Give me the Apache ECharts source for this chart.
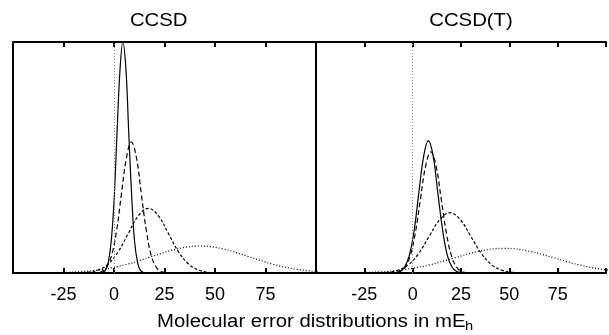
<!DOCTYPE html>
<html>
<head>
<meta charset="utf-8">
<script src="https://cdn.jsdelivr.net/npm/echarts@6/dist/echarts.min.js"></script>
<style>
html,body{margin:0;padding:0;background:#fff;}
#chart{width:609px;height:335px;}
</style>
</head>
<body>
<div id="chart"></div>
<script>
// Panel titles and axis title
const panelTitles = ['CCSD', 'CCSD(T)'];
const axisTitle = 'Molecular error distributions in mE';
const axisTitleSub = 'h';
// Tick labels shown on x axes
const xTickLabels = [-25, 0, 25, 50, 75];

// CCSD panel curves: [error (mEh), relative frequency]
const ccsdSolid = [[-7.2,0.03],[-5.8,0.22],[-4.3,1.11],[-2.9,4.39],[-1.4,13.5],[0.1,32.5],[1.5,60.7],[3.0,88.3],[4.4,100],[5.9,88.3],[7.3,60.7],[8.8,32.5],[10.2,13.5],[11.7,4.39],[13.1,1.11],[14.6,0.22],[16.0,0.03]];
const ccsdDashed = [[-11.0,0.02],[-8.6,0.13],[-6.1,0.63],[-3.7,2.49],[-1.2,7.67],[1.3,18.4],[3.7,34.4],[6.2,50.0],[8.6,56.7],[11.1,50.0],[13.5,34.4],[16.0,18.4],[18.4,7.67],[20.9,2.49],[23.3,0.63],[25.8,0.13],[28.2,0.02]];
const ccsdShortDash = [[-23,0.01],[-18,0.06],[-13,0.31],[-8,1.23],[-3,3.79],[2,9.09],[7,17.0],[12,24.7],[17,28.0],[22,24.7],[27,17.0],[32,9.09],[37,3.79],[42,1.23],[47,0.31],[52,0.06],[57,0.01]];
const ccsdDotted = [[-53.4,0.004],[-41.4,0.026],[-29.4,0.13],[-17.4,0.51],[-5.4,1.58],[6.6,3.80],[18.6,7.10],[30.6,10.3],[42.6,11.7],[54.6,10.3],[66.6,7.10],[78.6,3.80],[90.6,1.58],[102.6,0.51],[114.6,0.13]];

// CCSD(T) panel curves
const ccsdtSolid = [[-11.5,0.019],[-9.1,0.126],[-6.6,0.636],[-4.2,2.52],[-1.7,7.75],[0.8,18.6],[3.2,34.8],[5.7,50.6],[8.1,57.3],[10.6,50.6],[13.0,34.8],[15.5,18.6],[17.9,7.75],[20.4,2.52],[22.8,0.636],[25.3,0.126],[27.7,0.019]];
const ccsdtDashed = [[-12.2,0.018],[-9.5,0.116],[-6.8,0.583],[-4.1,2.31],[-1.4,7.10],[1.3,17.0],[4.0,31.8],[6.7,46.3],[9.4,52.5],[12.1,46.3],[14.8,31.8],[17.5,17.0],[20.2,7.10],[22.9,2.31],[25.6,0.583],[28.3,0.116],[31.0,0.018]];
const ccsdtShortDash = [[-23.9,0.009],[-18.5,0.057],[-13.1,0.29],[-7.7,1.15],[-2.3,3.53],[3.1,8.47],[8.5,15.8],[13.9,23.0],[19.3,26.1],[24.7,23.0],[30.1,15.8],[35.5,8.47],[40.9,3.53],[46.3,1.15],[51.7,0.29],[57.1,0.057],[62.5,0.009]];
const ccsdtDotted = [[-56.6,0.004],[-43.6,0.024],[-30.6,0.119],[-17.6,0.47],[-4.6,1.45],[8.4,3.47],[21.4,6.49],[34.4,9.44],[47.4,10.7],[60.4,9.44],[73.4,6.49],[86.4,3.47],[99.4,1.45],[112.4,0.47],[125.4,0.119]];

const FONT = '"Liberation Sans", Arial, Helvetica, sans-serif';
const chart = echarts.init(document.getElementById('chart'), null, {renderer: 'canvas'});

const grids = [
  {left: 13, top: 42, width: 303, height: 231},
  {left: 316, top: 42, width: 303, height: 231}
];

function bottomX(gi) {
  return {
    type: 'value', gridIndex: gi, position: 'bottom', min: -50, max: 100, interval: 25,
    axisLine: {show: true, onZero: false, lineStyle: {color: '#000', width: 2}},
    axisTick: {show: true, inside: true, length: 5, lineStyle: {color: '#000', width: 2}},
    axisLabel: {show: true, color: '#000', fontSize: 18, fontFamily: FONT, margin: 13,
      formatter: v => xTickLabels.indexOf(v) >= 0 ? String(v) : ''},
    splitLine: {show: false}
  };
}
function topX(gi) {
  return {
    type: 'value', gridIndex: gi, position: 'top', min: -50, max: 100, interval: 25,
    axisLine: {show: true, onZero: false, lineStyle: {color: '#000', width: 2}},
    axisTick: {show: true, inside: true, length: 5, lineStyle: {color: '#000', width: 2}},
    axisLabel: {show: false},
    splitLine: {show: false}
  };
}
function leftY(gi) {
  return {
    type: 'value', gridIndex: gi, min: 0, max: 100,
    axisLine: {show: true, onZero: false, lineStyle: {color: '#000', width: 2}},
    axisTick: {show: false}, axisLabel: {show: false}, splitLine: {show: false}
  };
}

function curve(data, xi, yi, dash) {
  return {
    type: 'line', data: data, xAxisIndex: xi, yAxisIndex: yi,
    showSymbol: false, symbol: 'none', smooth: 0.4, clip: true,
    lineStyle: {color: '#000', width: 1.2, type: dash},
    z: 3, silent: true, animation: false
  };
}
function zeroLine(xi, yi) {
  return {
    type: 'line', data: [], xAxisIndex: xi, yAxisIndex: yi, silent: true, z: 1,
    markLine: {silent: true, symbol: ['none', 'none'], label: {show: false},
      lineStyle: {color: '#888', width: 1, type: [1, 2]}, data: [{xAxis: 0}], animation: false}
  };
}

const option = {
  animation: false,
  backgroundColor: '#fff',
  grid: grids,
  xAxis: [bottomX(0), topX(0), bottomX(1), topX(1)],
  yAxis: [leftY(0), leftY(1)],
  series: [
    zeroLine(0, 0),
    curve(ccsdDotted, 0, 0, [1, 2]),
    curve(ccsdShortDash, 0, 0, [3, 2]),
    curve(ccsdDashed, 0, 0, [5, 3]),
    curve(ccsdSolid, 0, 0, 'solid'),
    zeroLine(2, 1),
    curve(ccsdtDotted, 2, 1, [1, 2]),
    curve(ccsdtShortDash, 2, 1, [3, 2]),
    curve(ccsdtDashed, 2, 1, [5, 3]),
    curve(ccsdtSolid, 2, 1, 'solid')
  ],
  graphic: [
    {type: 'text', x: 158.7, y: 21, scaleX: 1.13, silent: true,
      style: {text: panelTitles[0], font: '18px ' + FONT, fill: '#000', align: 'center', verticalAlign: 'middle'}},
    {type: 'text', x: 471, y: 21, scaleX: 1.13, silent: true,
      style: {text: panelTitles[1], font: '18px ' + FONT, fill: '#000', align: 'center', verticalAlign: 'middle'}},
    {type: 'text', x: 157, y: 322, scaleX: 1.13, silent: true,
      style: {text: axisTitle, font: '18px ' + FONT, fill: '#000', align: 'left', verticalAlign: 'middle'}},
    {type: 'text', x: 465, y: 326, scaleX: 1.13, silent: true,
      style: {text: axisTitleSub, font: '13px ' + FONT, fill: '#000', align: 'left', verticalAlign: 'middle'}}
  ]
};
chart.setOption(option);
</script>
</body>
</html>
